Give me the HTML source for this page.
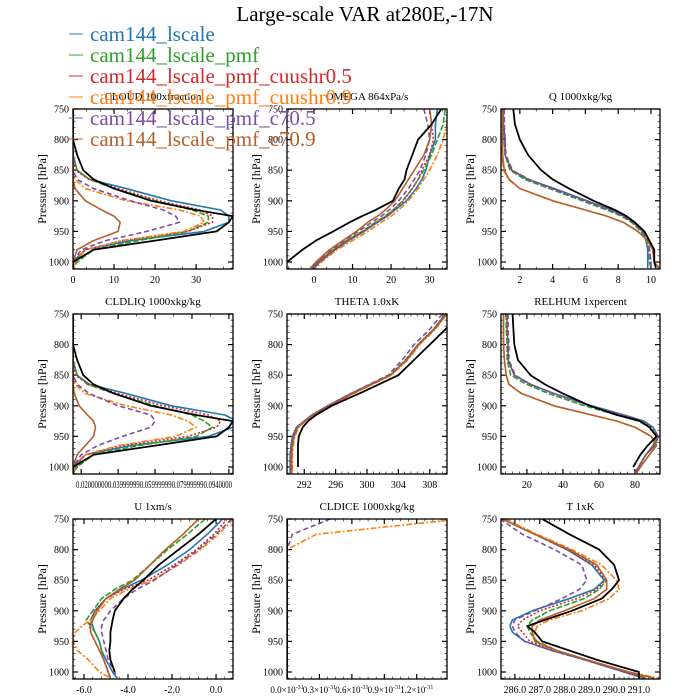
<!DOCTYPE html>
<html><head><meta charset="utf-8">
<style>
html,body{margin:0;padding:0;background:#fff;}
svg{display:block;font-family:"Liberation Serif",serif;}
</style></head>
<body>
<svg id="chart" width="700" height="700" viewBox="0 0 700 700"></svg>
<script>
const levels=[750,775,800,825,850,865,880,900,915,925,935,950,965,980,1000,1010];
const seriesNames=["cam144_lscale","cam144_lscale_pmf","cam144_lscale_pmf_cuushr0.5","cam144_lscale_pmf_cuushr0.9","cam144_lscale_pmf_c70.5","cam144_lscale_pmf_c70.9"];
const cloudObs=[0,0,0,1,2.5,5,10,19,30,39,38,35,20,5,0,0];
const cloudSeries=[
[0,0,0,0,1,4,13,24,36,38,38,32,14,3,0,0],
[0,0,0,0,1,4,10,20,29,33,33,28,16,5,1,0],
[0,0,0,0,0.5,4,11,21,31,34,34,28,12,3,0.5,0],
[0,0,0,0,0,0.5,3,13,26,31,32,27,12,3,0.5,0],
[0,0,0,0,0,1,5,14,22,25,26,18,8,2,0,0],
[0,0,0,0,0,0,0.5,3,7,10,11.5,11,5,1,0,0]];
const omegaObs=[33,30.5,27,25.5,24,23.5,22,20.5,16,12.5,9.3,5,0.5,-3,-7,-9];
const omegaSeries=[
[32,31.5,31.5,30,29,28,26.5,24,21,19,16.5,13,9,5.5,1.5,0],
[34,33.5,32,30.5,28.5,27,25.5,23,20.5,18.5,16,12.5,8.5,5,1,-0.5],
[30,30.5,31,30,28,27,25.5,23.2,20.7,18.7,16.2,12.7,8.7,5.2,1.2,-0.3],
[35,34.5,33.5,32,30,28.5,27,24.5,22,20,17.5,14,10,6,2,0.5],
[28.5,29.5,30,29,27.5,26,24.5,22,19.5,17.5,15,11.5,8,4.5,1,-0.5],
[30,30.5,30,28.5,26,24.5,23,21,18.5,16.5,14,11,7.5,4,0.5,-1]];
const qObs=[1.6,1.7,2,2.5,3.3,4,5,6.5,7.8,8.5,9,9.6,9.9,10.2,10.2,10.3];
const qSeries=[
[1.0,1.0,1.1,1.1,1.5,2.5,4.1,6.1,7.6,8.4,8.9,9.5,9.7,9.8,9.8,9.8],
[1.0,1.0,1.05,1.1,1.4,2.3,3.8,5.8,7.3,8.2,8.8,9.4,9.7,9.9,9.9,10.0],
[1.0,1.0,1.1,1.1,1.5,2.5,4.0,6.0,7.5,8.3,8.9,9.5,9.8,9.9,10.0,10.0],
[0.9,0.9,0.9,0.9,1.0,1.3,2.0,4.0,6.0,7.3,8.3,9.2,9.8,10.1,10.2,10.5],
[1.05,1.05,1.1,1.15,1.55,2.55,4.0,6.0,7.5,8.3,8.9,9.5,9.8,9.9,10.0,10.0],
[0.95,0.95,0.95,0.95,1.05,1.35,2.0,4.0,6.0,7.3,8.3,9.2,9.8,10.1,10.2,10.5]];
const liqObs=[0,0,0,1,2.5,5,10,19,30,39,38,35,20,5,0,0];
const liqSeries=[
[0,0,0,0,1,4,13,24,37,40,39,33,14,3,0,0],
[0,0,0,0,1,3.5,10,20,29,32,34,30,16,5,1,0],
[0,0,0,0,0.5,4,11,22,33,36,35,28,12,3,0.5,0],
[0,0,0,0,0,0.5,3,13,24,28,30,25,11,3,0.5,0],
[0,0,0,0,0,1,4,11,19,20,19,12,6,2,0,0],
[0,0,0,0,0,0,0.3,1.5,3.5,5,5.5,5,3,1,0,0]];
const thetaObs=[312,310,308,306,304,301.5,299,295.5,293.5,292.5,291.8,291.3,291.2,291.2,291.2,null];
const thetaSeries=[
[310,308.5,306.5,305,303,300.5,298,295,293,292,291,290.5,290.3,290.2,290.2,290.2],
[310,308.5,306.5,304.9,302.9,300.4,298,295,293,292,291.1,290.6,290.4,290.3,290.3,290.3],
[310,308.5,306.5,305,303,300.5,298,295,293,292,291.1,290.6,290.4,290.3,290.3,290.3],
[310.2,308.7,306.7,305.2,303.1,300.7,298.3,295.4,293.3,292.2,291.3,290.8,290.6,290.5,290.5,290.5],
[309.6,308,306,304.5,302.7,300.3,297.9,295,293,292,291.1,290.6,290.4,290.3,290.3,290.3],
[310.2,308.6,306.6,305.1,303,300.6,298.2,295.3,293.2,292.1,291.2,290.7,290.5,290.4,290.4,290.4]];
const rhObs=[12,12.5,13,15,22,30,40,55,70,83,88,92,87,83,79,null];
const rhSeries=[
[9,9,9.5,9.5,13,22,35,56,74,85,90,93,91,86,82,80],
[8.5,8.5,9,9,11,20,32,52,70,82,88,92,90,86,82,80],
[9,9,9.5,9.5,13,22,35,55,73,84,89,93,91,86,82,80],
[7,7,7,7.5,8.5,10,17,35,56,70,80,89,92,88,83,81],
[9.5,9.5,10,10,13.5,22,35,55,72,83,88,92,90,86,82,80],
[7,7,7,7.5,8.5,10,17,35,56,70,80,89,92,88,83,81]];
const uObs=[0,-0.8,-1.7,-2.6,-3.3,-3.8,-4.2,-4.6,-4.7,-4.75,-4.8,-4.8,-4.85,-4.8,-4.6,null];
const uSeries=[
[0.3,-0.4,-1.2,-2.2,-3.4,-4.3,-5,-5.5,-5.7,-5.6,-5.5,-5.3,-5.2,-5.0,-4.7,-4.5],
[-0.5,-1.3,-2.2,-3,-3.8,-4.6,-5.2,-5.6,-5.9,-5.7,-5.5,-5.3,-5.2,-5.1,-4.9,-4.8],
[0.5,-0.1,-0.9,-1.9,-3.1,-4.2,-5,-5.5,-5.7,-5.75,-5.7,-5.5,-5.3,-5.1,-4.9,-4.8],
[0.8,0.1,-0.7,-1.7,-2.9,-4,-4.8,-5.3,-5.7,-6.1,-6.4,-6.5,-6.3,-5.8,-5.3,-4.8],
[0.7,0,-0.8,-1.8,-2.8,-3.6,-4.2,-4.8,-5.1,-5.2,-5.2,-5.1,-5,-4.9,-4.6,-4.5],
[-0.8,-1.5,-2.3,-3,-3.7,-4.4,-5,-5.4,-5.6,-5.7,-5.7,-5.5,-5.3,-5.1,-4.9,-4.8]];
const iceObs=[0,0,0,0,0,0,0,0,0,0,0,0,0,0,0,0];
const iceSeries=[
[0,0,0,0,0,0,0,0,0,0,0,0,0,0,0,0],
[0,0,0,0,0,0,0,0,0,0,0,0,0,0,0,0],
[0,0,0,0,0,0,0,0,0,0,0,0,0,0,0,0],
[1.6,0.27,0,0,0,0,0,0,0,0,0,0,0,0,0,0],
[0.4,0.05,0,0,0,0,0,0,0,0,0,0,0,0,0,0],
[0,0,0,0,0,0,0,0,0,0,0,0,0,0,0,0]];
const tObs=[287.1,288.2,289.4,290,290.2,289.9,289.5,288.3,287.2,286.5,286.8,287.1,288.2,289.3,291,291];
const tSeries=[
[285.5,286.8,288.1,289.1,289.6,289.2,288.2,286.7,285.9,285.8,285.9,286.4,287.5,288.8,290.4,291.2],
[285.5,286.8,288.2,289.3,289.7,289.4,288.8,287.4,286.7,286.5,286.6,286.9,287.7,288.9,290.5,291.3],
[285.5,286.8,288.1,289.2,289.65,289.3,288.5,287,286.3,286.1,286.3,286.6,287.6,288.85,290.45,291.25],
[285.6,286.9,288.3,289.5,290.1,290.2,289.8,288.7,287.4,286.9,286.8,286.8,287.6,288.9,290.6,291.8],
[285.4,286.3,287.6,288.7,288.9,288.6,287.9,286.8,286,285.9,286,286.4,287.5,288.8,290.4,291.2],
[285.5,286.8,288.2,289.3,289.7,289.7,289.2,288,287,286.7,286.7,286.8,287.7,288.9,290.6,291.6]];

const colors=["#1f77b4","#2ca02c","#d62728","#ff7f0e","#7b4ea3","#b5602a"];
const dashes=["","6,2","2,2","6,2,2,2","5,3",""];
const NS="http://www.w3.org/2000/svg";
const svg=document.getElementById('chart');
function mk(tag,attrs,parent){const e=document.createElementNS(NS,tag);for(const k in attrs)e.setAttribute(k,attrs[k]);(parent||svg).appendChild(e);return e;}

const panels=[
{key:"cloud",title:"CLOUD  100xfraction",x0:73,y0:109,w:160,xmin:0,xmax:39,ticks:[0,10,20,30],tl:["0","10","20","30"],minor:2,obs:cloudObs,ser:cloudSeries},
{key:"omega",title:"OMEGA  864xPa/s",x0:287,y0:109,w:160,xmin:-7,xmax:34.5,ticks:[0,10,20,30],tl:["0","10","20","30"],minor:2,obs:omegaObs,ser:omegaSeries},
{key:"q",title:"Q  1000xkg/kg",x0:501,y0:109,w:159,xmin:0.85,xmax:10.55,ticks:[2,4,6,8,10],tl:["2","4","6","8","10"],minor:1,obs:qObs,ser:qSeries},
{key:"cldliq",title:"CLDLIQ  1000xkg/kg",x0:73,y0:314,w:160,xmin:0,xmax:39,ticks:[2,11,20,29,38],tl:null,minor:1,obs:liqObs,ser:liqSeries},
{key:"theta",title:"THETA  1.0xK",x0:287,y0:314,w:160,xmin:289.8,xmax:310.2,ticks:[292,296,300,304,308],tl:["292","296","300","304","308"],minor:4,obs:thetaObs,ser:thetaSeries},
{key:"relhum",title:"RELHUM  1xpercent",x0:501,y0:314,w:159,xmin:5.6,xmax:93.9,ticks:[20,40,60,80],tl:["20","40","60","80"],minor:4,obs:rhObs,ser:rhSeries},
{key:"u",title:"U  1xm/s",x0:73,y0:519,w:160,xmin:-6.5,xmax:0.77,ticks:[-6,-4,-2,0],tl:["-6.0","-4.0","-2.0","0.0"],minor:4,obs:uObs,ser:uSeries},
{key:"cldice",title:"CLDICE  1000xkg/kg",x0:287,y0:519,w:160,xmin:0,xmax:1.48,ticks:[0,0.3,0.6,0.9,1.2],tl:["0.0","0.3","0.6","0.9","1.2"],minor:3,obs:iceObs,ser:iceSeries},
{key:"t",title:"T  1xK",x0:501,y0:519,w:159,xmin:285.44,xmax:291.85,ticks:[286,287,288,289,290,291],tl:["286.0","287.0","288.0","289.0","290.0","291.0"],minor:4,obs:tObs,ser:tSeries}];

const H=160;
panels.forEach((p,pi)=>{
  const g=mk('g',{});
  
  
  const xs=v=>p.x0+(v-p.xmin)/(p.xmax-p.xmin)*p.w;
  const ys=v=>p.y0+(v-750)/(250)*153;
  const cid='clip'+pi;
  const cp=mk('clipPath',{id:cid},g);mk('rect',{x:p.x0,y:p.y0,width:p.w,height:H},cp);
  const t=mk('text',{x:p.x0+p.w/2,y:p.y0-9,'text-anchor':'middle','font-size':'11'},g);t.textContent=p.title;
  
  
  const yt=mk('text',{x:0,y:0,'text-anchor':'middle','font-size':'12',transform:`translate(${p.x0-27},${p.y0+H/2}) rotate(-90)`},g);yt.textContent="Pressure [hPa]";
  
  
  for(let v=750;v<=1010;v+=10){
    const y=ys(v);const maj=v%50===0;const L=maj?5:2.5;
    mk('line',{x1:p.x0,x2:p.x0+L,y1:y,y2:y,stroke:'#000','stroke-width':maj?1.2:0.6},g);
    mk('line',{x1:p.x0+p.w,x2:p.x0+p.w-L,y1:y,y2:y,stroke:'#000','stroke-width':maj?1.2:0.6},g);
    if(maj){const tl=mk('text',{x:p.x0-4,y:y+3.5,'text-anchor':'end','font-size':'10'},g);tl.textContent=v;
      
      }
  }
  const step=p.ticks.length>1?(p.ticks[1]-p.ticks[0]):1;
  const mstep=step/(p.minor+1);
  for(let v=p.ticks[0]-step*3;v<=p.xmax+1e-9;v+=mstep){
    if(v<p.xmin-1e-9)continue;
    const x=xs(v);const k=Math.round((v-p.ticks[0])/mstep);const maj=k%(p.minor+1)===0;const L=maj?5:2.5;
    mk('line',{x1:x,x2:x,y1:p.y0+H,y2:p.y0+H-L,stroke:'#000','stroke-width':maj?1.2:0.6},g);
    mk('line',{x1:x,x2:x,y1:p.y0,y2:p.y0+L,stroke:'#000','stroke-width':maj?1.2:0.6},g);
  }
  if(p.tl){p.ticks.forEach((v,i)=>{
    const tx=mk('text',{x:xs(v),y:p.y0+H+14,'text-anchor':'middle','font-size':p.key==='cldice'?'9':'10'},g);
    if(p.key==='cldice'){tx.innerHTML=p.tl[i]+'×10<tspan dy="-4" font-size="6">-31</tspan>';}else tx.textContent=p.tl[i];
    
    
  });}else{
    const tx=mk('text',{x:p.x0+3,y:p.y0+H+14,'font-size':'10',textLength:p.w-4,lengthAdjust:'spacingAndGlyphs'},g);
    tx.textContent="0.020000000.039999990.059999990.079999990.0940000";
    
    
  }
  const lg=mk('g',{'clip-path':`url(#${cid})`},g);
  function line(vals,col,dash,w,name){
    let d='';let pen=false;
    vals.forEach((v,i)=>{if(v===null||v===undefined){pen=false;return;}d+=(pen?'L':'M')+xs(v).toFixed(2)+','+ys(levels[i]).toFixed(2);pen=true;});
    const pth=mk('path',{d:d,fill:'none',stroke:col,'stroke-width':w,'stroke-dasharray':dash,'stroke-linejoin':'round'},lg);
    
    
  }
  p.ser.forEach((s,i)=>line(s,colors[i],dashes[i],1.6,p.key+'-line-'+seriesNames[i]));
  line(p.obs,'#000','',1.8,p.key+'-line-obs');
  mk('rect',{x:p.x0,y:p.y0,width:p.w,height:H,fill:'none',stroke:'#000','stroke-width':1.3},g);
});

const title=mk('text',{x:365,y:21,'text-anchor':'middle','font-size':'21'});
title.textContent="Large-scale VAR at280E,-17N";


const lgd=mk('g',{});


seriesNames.forEach((n,i)=>{
  const y=34+i*21;
  const ln=mk('line',{x1:69,x2:83,y1:y,y2:y,stroke:colors[i],'stroke-width':1.2,opacity:0.8},lgd);
  
  
  const tx=mk('text',{x:90,y:y+7,'font-size':'21',fill:colors[i]},lgd);
  tx.textContent=n;
  
  
});
</script>
</body></html>
